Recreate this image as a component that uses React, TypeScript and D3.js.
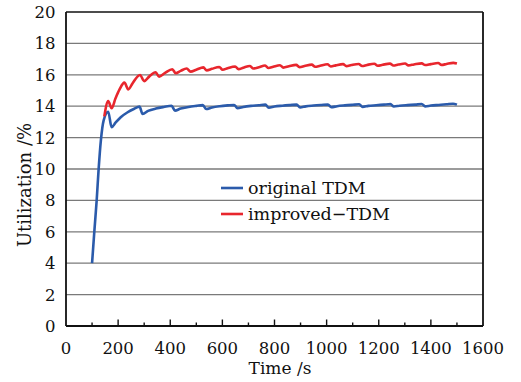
import React from "react";
import * as d3 from "d3";

const W = 521;
const H = 382;

const xTicks = [0, 200, 400, 600, 800, 1000, 1200, 1400, 1600];
const xMinorTicks = [100, 300, 500, 700, 900, 1100, 1300, 1500];
const yTicks = [0, 2, 4, 6, 8, 10, 12, 14, 16, 18, 20];

const seriesNames = ["original TDM", "improved\u2212TDM"];
const seriesColors = ["#2b5bab", "#e8262d"];

const originalTDM: [number, number][] = [
  [100, 4.0], [108.6, 6.0], [117.7, 8.0], [125, 9.94], [134, 11.85], [144.5, 13.1], [162, 13.65],
  [175, 12.66], [190, 12.95], [210, 13.3], [235, 13.6], [260, 13.82], [282, 13.97],
  [294, 13.5], [315, 13.7], [345, 13.85], [375, 13.95], [405, 14.03],
  [418, 13.72], [440, 13.85], [470, 13.95], [500, 14.02], [525, 14.07],
  [538, 13.82], [560, 13.92], [590, 14.0], [620, 14.05], [645, 14.08],
  [658, 13.87], [680, 13.95], [710, 14.02], [740, 14.06], [765, 14.1],
  [778, 13.9], [800, 13.98], [830, 14.03], [860, 14.07], [885, 14.1],
  [898, 13.92], [920, 13.99], [950, 14.04], [980, 14.08], [1005, 14.11],
  [1018, 13.94], [1040, 14.0], [1070, 14.05], [1100, 14.09], [1125, 14.12],
  [1138, 13.96], [1160, 14.02], [1190, 14.06], [1220, 14.1], [1245, 14.13],
  [1258, 13.98], [1280, 14.03], [1310, 14.07], [1340, 14.1], [1365, 14.14],
  [1378, 13.99], [1400, 14.04], [1430, 14.08], [1460, 14.12], [1485, 14.16],
  [1500, 14.1],
];

const improvedTDM: [number, number][] = [
  [147, 13.35], [162, 14.33], [175, 13.87], [190, 14.5], [205, 15.05], [224, 15.5],
  [239, 15.07], [255, 15.45], [284, 15.99], [300, 15.6], [320, 15.9], [344, 16.16],
  [357, 15.88], [380, 16.12], [408, 16.35], [421, 16.1], [440, 16.25], [463, 16.4],
  [478, 16.2], [500, 16.32], [527, 16.47], [540, 16.28], [560, 16.38], [588, 16.5],
  [601, 16.32], [620, 16.42], [649, 16.53], [662, 16.36], [680, 16.45], [706, 16.56],
  [719, 16.4], [740, 16.48], [764, 16.59], [777, 16.43], [795, 16.51], [821, 16.61],
  [834, 16.46], [855, 16.54], [883, 16.63], [896, 16.49], [915, 16.56], [943, 16.65],
  [956, 16.51], [975, 16.58], [1003, 16.67], [1016, 16.53], [1035, 16.6], [1063, 16.68],
  [1076, 16.55], [1095, 16.62], [1123, 16.69], [1136, 16.56], [1155, 16.63], [1183, 16.7],
  [1196, 16.58], [1215, 16.64], [1243, 16.71], [1256, 16.59], [1275, 16.65], [1301, 16.72],
  [1314, 16.6], [1335, 16.66], [1365, 16.73], [1378, 16.62], [1400, 16.68], [1428, 16.75],
  [1441, 16.63], [1460, 16.69], [1486, 16.76], [1500, 16.72],
];

const FONT = "'DejaVu Serif', 'Liberation Serif', serif";

export default function App() {
  const left = 66, right = 483, top = 12, bottom = 326;
  const x = d3.scaleLinear().domain([0, 1600]).range([left, right]);
  const y = d3.scaleLinear().domain([0, 20]).range([bottom, top]);
  const line = d3
    .line<[number, number]>()
    .x((d) => x(d[0]))
    .y((d) => y(d[1]))
    .curve(d3.curveMonotoneX);
  const series = [originalTDM, improvedTDM];

  return (
    <svg
      width={W}
      height={H}
      style={{ position: "fixed", left: 0, top: 0, background: "#fff" }}
      fontFamily={FONT}
    >
      <rect x={0} y={0} width={W} height={H} fill="#fff" />
      {yTicks.slice(1, -1).map((t) => (
        <line key={t} x1={left} x2={right} y1={y(t)} y2={y(t)} stroke="#7a7a7a" strokeWidth={1.3} />
      ))}
      <line x1={left} x2={right} y1={top} y2={top} stroke="#111" strokeWidth={1.6} />
      <line x1={right} x2={right} y1={top} y2={bottom} stroke="#111" strokeWidth={1.8} />
      <line x1={left} x2={left} y1={top} y2={bottom} stroke="#111" strokeWidth={1.8} />
      <line x1={left} x2={right} y1={bottom} y2={bottom} stroke="#111" strokeWidth={1.8} />
      {xTicks.slice(1, -1).map((t) => (
        <line key={t} x1={x(t)} x2={x(t)} y1={bottom} y2={bottom - 6.5} stroke="#111" strokeWidth={1.4} />
      ))}
      {xMinorTicks.map((t) => (
        <line key={t} x1={x(t)} x2={x(t)} y1={bottom} y2={bottom - 3.5} stroke="#111" strokeWidth={1.4} />
      ))}
      {series.map((s, i) => (
        <path key={i} d={line(s) || ""} fill="none" stroke={seriesColors[i]} strokeWidth={2.6} strokeLinejoin="round" />
      ))}
      {xTicks.map((t) => (
        <text key={t} x={x(t)} y={354} textAnchor="middle" fontSize={16.5} fill="#111">
          {t}
        </text>
      ))}
      {yTicks.map((t) => (
        <text key={t} x={55.5} y={y(t) + 6} textAnchor="end" fontSize={16.5} fill="#111">
          {t}
        </text>
      ))}
      <text x={280} y={374} textAnchor="middle" fontSize={17} fill="#111">
        Time /s
      </text>
      <text
        transform={`translate(31, 185) rotate(-90)`}
        textAnchor="middle"
        fontSize={18}
        fill="#111"
      >
        Utilization /%
      </text>
      {seriesNames.map((n, i) => (
        <g key={n} transform={`translate(0, ${188 + i * 26})`}>
          <line x1={221} x2={243} y1={0} y2={0} stroke={seriesColors[i]} strokeWidth={2.6} />
          <text x={248} y={6} fontSize={17.5} fill="#111">
            {n}
          </text>
        </g>
      ))}
    </svg>
  );
}
